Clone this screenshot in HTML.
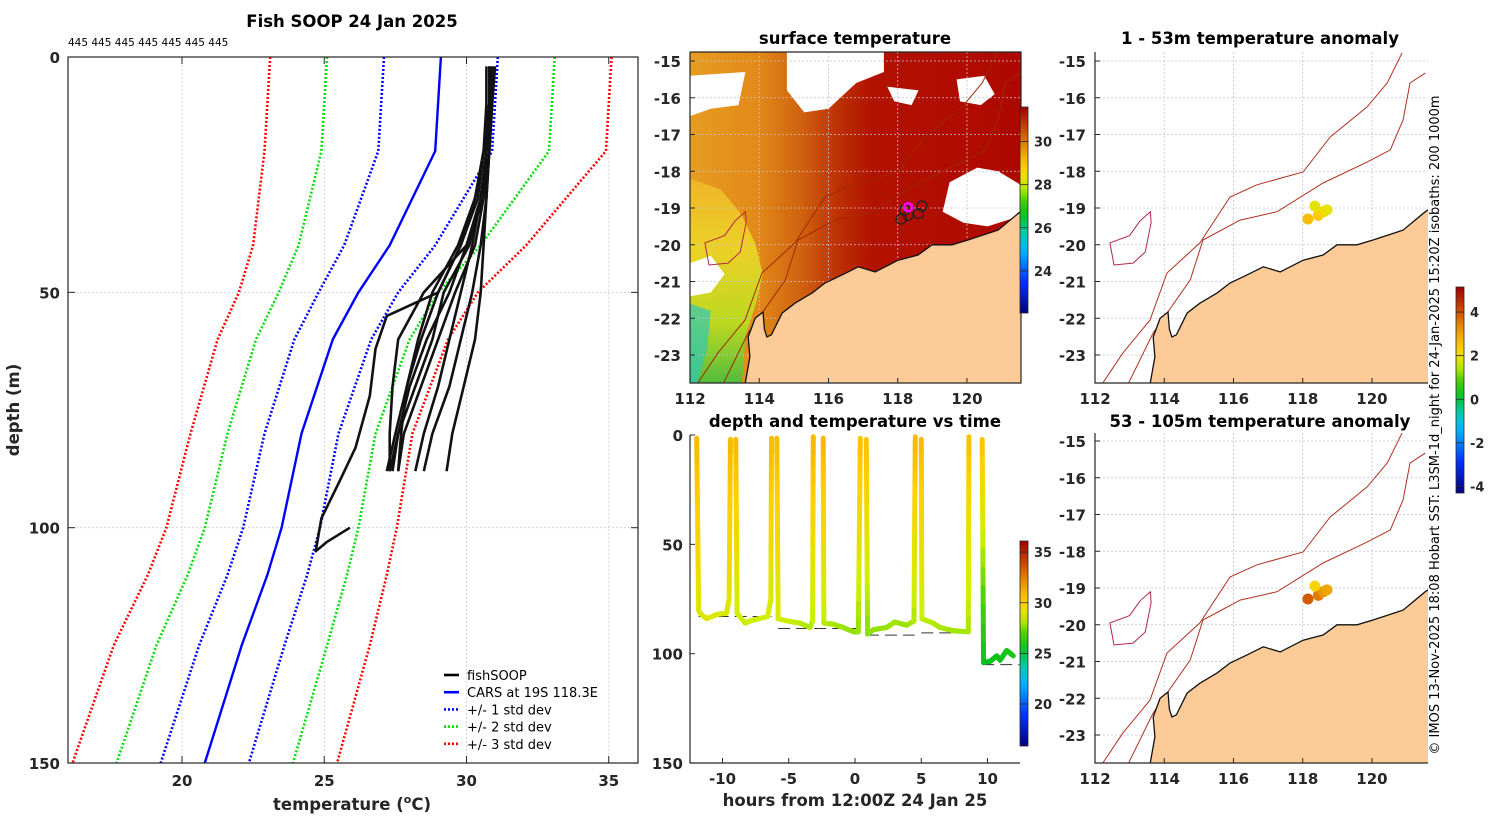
<!DOCTYPE html>
<html><head><meta charset="utf-8"><title>Fish SOOP 24 Jan 2025</title>
<style>
html,body{margin:0;padding:0;background:#fff;width:1500px;height:820px;overflow:hidden}
svg{display:block}
text{font-family:"DejaVu Sans","Liberation Sans",sans-serif}
.tk{font-size:15px;font-weight:bold;fill:#262626}
.ti{font-size:16.5px;font-weight:bold;fill:#000}
</style></head>
<body>
<svg id="fig" width="1500" height="820" viewBox="0 0 1500 820" xmlns="http://www.w3.org/2000/svg">
<defs>
<clipPath id="cl"><rect x="68" y="57" width="570" height="706"/></clipPath>
<clipPath id="cs"><rect x="690" y="52" width="331" height="331"/></clipPath>
<clipPath id="ca"><rect x="1095" y="52" width="333" height="331"/></clipPath>
<clipPath id="cb"><rect x="1095" y="433" width="333" height="330"/></clipPath>
<clipPath id="ct"><rect x="690" y="430" width="340" height="340"/></clipPath>
<linearGradient id="sstGrad" x1="690" y1="0" x2="1021" y2="0" gradientUnits="userSpaceOnUse">
<stop offset="0" stop-color="#e69c22"/><stop offset="0.2" stop-color="#e28a18"/><stop offset="0.33" stop-color="#d06410"/><stop offset="0.45" stop-color="#bc3004"/><stop offset="0.55" stop-color="#b21200"/><stop offset="1" stop-color="#ae0800"/>
</linearGradient>
<linearGradient id="yelGrad" x1="0" y1="0" x2="0" y2="1">
<stop offset="0" stop-color="#f0b828"/><stop offset="0.35" stop-color="#ecd828"/><stop offset="0.7" stop-color="#b8e020"/><stop offset="1" stop-color="#40c040"/>
</linearGradient>
</defs>
<rect x="0" y="0" width="1500" height="820" fill="#fff"/>
<g id="L"></g>
<g id="S"></g>
<g id="A"></g>
<g id="B"></g>
<g id="T"></g>
<text x="352" y="27" text-anchor="middle" class="ti">Fish SOOP 24 Jan 2025</text>
<text x="68" y="46" font-size="10.5" fill="#000">445 445 445 445 445 445 445</text>
<text x="855" y="44" text-anchor="middle" class="ti">surface temperature</text>
<text x="1260" y="44" text-anchor="middle" class="ti">1 - 53m temperature anomaly</text>
<text x="855" y="427" text-anchor="middle" class="ti">depth and temperature vs time</text>
<text x="1260" y="427" text-anchor="middle" class="ti">53 - 105m temperature anomaly</text>
<text x="352" y="810" text-anchor="middle" class="ti" style="fill:#262626">temperature (<tspan font-size="11" dy="-7">o</tspan><tspan dy="7">C)</tspan></text>
<text transform="translate(19,410) rotate(-90)" text-anchor="middle" class="ti" style="fill:#262626">depth (m)</text>
<text x="855" y="806" text-anchor="middle" class="ti" style="fill:#262626">hours from 12:00Z 24 Jan 25</text>
<text transform="translate(1439,425) rotate(-90)" text-anchor="middle" font-size="13" fill="#000">© IMOS 13-Nov-2025 18:08 Hobart SST: L3SM-1d_night for 24-Jan-2025 15:20Z isobaths: 200  1000m</text>
</svg>
<script>
// ---------- data ----------
const carsDepth = [0, 20, 40, 50, 60, 80, 100, 110, 125, 150];
const carsMean  = [29.1, 28.9, 27.3, 26.2, 25.3, 24.2, 23.5, 23.0, 22.1, 20.8];
const carsStd   = [2.0, 2.0, 1.6, 1.4, 1.35, 1.3, 1.35, 1.4, 1.5, 1.55];
const fishDepth = [2, 10, 20, 30, 40, 50, 60, 70, 80, 88];
const fishP1 = [30.9, 30.85, 30.7, 30.6, 30.3, 29.6, 29.0, 28.4, 27.8, 27.6];
const fishP2 = [30.8, 30.8, 30.7, 30.5, 30.1, 29.2, 28.8, 28.2, 27.6, 27.4];
const fishP3 = [31.0, 30.9, 30.8, 30.7, 30.5, 30.2, 29.8, 29.4, 28.8, 28.5];
const fishP4 = [30.9, 30.9, 30.8, 30.6, 30.0, 29.4, 28.6, 28.0, 27.6, 27.3];
const fishP5 = [30.7, 30.7, 30.6, 30.4, 29.8, 29.0, 28.4, 27.9, 27.5, 27.2];
const fishP6 = [31.0, 30.9, 30.8, 30.7, 30.6, 30.5, 30.3, 29.9, 29.5, 29.3];
const fishP7 = [30.8, 30.8, 30.6, 30.3, 29.7, 28.8, 28.3, 27.9, 27.7, 27.6];
const fishP8 = [30.9, 30.8, 30.7, 30.5, 30.2, 29.8, 29.4, 29.0, 28.5, 28.2];
const fishP10 = [30.8, 30.8, 30.7, 30.5, 30.0, 28.5, 27.6, 27.4, 27.3, 27.3];
const longDepth = [2, 10, 20, 30, 40, 45, 50, 55, 62, 72, 83, 90, 98, 105, 103, 100];
const longTemp  = [30.8, 30.8, 30.6, 30.3, 29.8, 29.4, 29.0, 27.2, 26.8, 26.6, 26.1, 25.55, 24.9, 24.7, 25.1, 25.9];
const tempTicks = [20, 25, 30, 35];
const depthTicks = [0, 50, 100, 150];
// depth-time track
const trackHour = [-11.95,-11.8,-11.7,-11.2,-10.4,-9.7,-9.5,-9.4, -9.0,-8.9,-8.3,-7.9,-6.6,-6.35,-6.3, -5.9,-5.8,-5.15,-4.15,-3.4,-3.2,-3.15, -2.4,-2.35,-1.65,-0.9,-0.1,0.25,0.4, 0.85,0.95,1.4,2.4,3.0,3.9,4.45,4.55, 5.0,5.05,5.9,6.4,7.4,8.55,8.6, 9.6,9.7,10.2,10.7,10.95,11.45,11.95];
const trackDepth = [1.5,80,81.5,84,82,81.5,75,2, 2,81.5,86,85,83,75,1.5, 1.5,84,85,86,88,85,0.8, 1.5,86,86.5,88,90,90,1.5, 2,91,89,88,85.5,87,85,0.8, 2,84,86,88,89.5,90,0.8, 2,104,103.5,101,103,98.5,101];
const trackTemp = [30.8,29.0,28.8,28.9,28.8,28.8,29.0,30.8, 30.8,28.5,28.3,28.4,28.5,28.7,30.8, 30.8,28.6,28.4,28.2,28.0,28.2,30.9, 30.9,28.2,28.0,27.9,27.7,27.7,30.6, 30.6,27.6,27.7,27.8,27.9,27.8,28.0,30.8, 30.8,28.3,28.1,28.0,27.9,27.9,30.6, 30.6,25.6,25.5,25.6,25.7,25.8,25.9];
const breakAfter = [7, 14, 21, 28, 36, 43];
const seabedStart = [-11.8, -5.8, 0.9, 5.0, 9.6];
const seabedEnd   = [-6.3, 0.4, 4.5, 8.6, 12.4];
const seabedDepth = [83, 88.5, 91.5, 90.5, 105];
const hourTicks = [-10, -5, 0, 5, 10];
// maps
const coastLon = [113.59,113.73,113.68,113.88,114.11,114.15,114.22,114.35,114.66,115.03,115.53,115.9,116.39,116.86,117.35,118.01,118.59,118.99,119.57,120.03,120.9,121.54,121.7,121.7];
const coastLat = [-23.8,-23.05,-22.51,-22.0,-21.83,-22.3,-22.51,-22.45,-21.86,-21.59,-21.31,-21.04,-20.82,-20.6,-20.74,-20.42,-20.28,-20.0,-20.0,-19.87,-19.6,-19.1,-19.0,-23.8];
const iso200Lon = [112.95,113.68,114.75,115.12,116.19,117.26,118.59,119.86,120.53,120.9,121.1,121.54];
const iso200Lat = [-23.8,-22.4,-20.96,-19.87,-19.33,-19.1,-18.32,-17.75,-17.42,-16.6,-15.6,-15.33];
const iso1000Lon = [112.2,112.8,113.59,114.08,115.03,115.9,116.68,118.01,118.79,119.86,120.44,120.87];
const iso1000Lat = [-23.8,-22.95,-22.05,-20.77,-19.95,-18.7,-18.37,-18.02,-17.07,-16.25,-15.6,-14.78];
const islandLon = [113.6,113.62,113.45,113.1,112.55,112.43,113.0,113.3];
const islandLat = [-19.1,-19.4,-20.2,-20.5,-20.55,-19.95,-19.75,-19.35];
const lonTicks = [112, 114, 116, 118, 120];
const latTicks = [-15, -16, -17, -18, -19, -20, -21, -22, -23];
const fishLon = [118.1, 118.3, 118.6, 118.7, 118.2];
const fishLat = [-19.3, -19.2, -19.15, -18.95, -19.05];
const anomLon = [118.15, 118.45, 118.6, 118.35, 118.7];
const anomLat = [-19.3, -19.2, -19.1, -18.95, -19.05];
const anomTop = [2.6, 2.4, 2.2, 1.9, 1.9];
const anomBot = [3.9, 3.5, 3.2, 2.2, 3.0];
const sstTicks = [24, 26, 28, 30];
const tcTicks = [20, 25, 30, 35];
const anTicks = [-4, -2, 0, 2, 4];

// ---------- helpers ----------
const NS = 'http://www.w3.org/2000/svg';
function mk(tag, attrs, parent) { const e = document.createElementNS(NS, tag); for (const k in attrs) e.setAttribute(k, attrs[k]); parent.appendChild(e); return e; }
const cmapStops = [[0,'#00007f'],[0.15,'#0030ff'],[0.3,'#00b0ff'],[0.38,'#00d0c0'],[0.47,'#00c020'],[0.55,'#50d000'],[0.62,'#d0f000'],[0.7,'#ffd000'],[0.78,'#f0a000'],[0.88,'#d05000'],[1,'#a00000']];
function hex2(c){return [parseInt(c.substr(1,2),16),parseInt(c.substr(3,2),16),parseInt(c.substr(5,2),16)];}
function cmap(t){ t=Math.max(0,Math.min(1,t)); for(let i=1;i<cmapStops.length;i++){ if(t<=cmapStops[i][0]){ const a=cmapStops[i-1],b=cmapStops[i]; const f=(t-a[0])/(b[0]-a[0]); const A=hex2(a[1]),B=hex2(b[1]); return 'rgb('+A.map((v,j)=>Math.round(v+(B[j]-v)*f)).join(',')+')'; } } return cmapStops[cmapStops.length-1][1]; }
function pts(xs, ys){ return xs.map((x,i)=>x.toFixed(1)+','+ys[i].toFixed(1)).join(' '); }

// ---------- left profile panel ----------
const L = document.getElementById('L');
const tx = T => 182 + (T - 20) * 28.45;
const dy = d => 57 + d * 4.707;
for (const t of tempTicks) {
  const g = mk('line', {x1: tx(t), x2: tx(t), y1: 57, y2: 763, stroke: '#c8cce0', 'stroke-width': 0.8, 'stroke-dasharray': '2,2'}, L);
  
  
  const lb = mk('text', {x: tx(t), y: 786, 'text-anchor': 'middle', class: 'tk'}, L);
  lb.textContent = t;
  
  
  for (const yy of [[763,756],[57,64]]) { const tk = mk('line', {x1: tx(t), x2: tx(t), y1: yy[0], y2: yy[1], stroke: '#262626'}, L);   }
}
for (const d of depthTicks) {
  if (d > 0 && d < 150) { const g = mk('line', {x1: 68, x2: 638, y1: dy(d), y2: dy(d), stroke: '#c8cce0', 'stroke-width': 0.8, 'stroke-dasharray': '2,2'}, L);
    
     }
  const lb = mk('text', {x: 60, y: dy(d) + 6, 'text-anchor': 'end', class: 'tk'}, L);
  lb.textContent = d;
  
  
  for (const xx of [[68,75],[638,631]]) { const tk = mk('line', {x1: xx[0], x2: xx[1], y1: dy(d), y2: dy(d), stroke: '#262626'}, L);   }
}
const LG = mk('g', {'clip-path': 'url(#cl)'}, L);
const stdCols = ['#0000ff', '#00e000', '#ff0000'];
for (let k = 3; k >= 1; k--) {
  for (const s of [-1, 1]) {
    const xs = carsMean.map((m, i) => tx(m + s * k * carsStd[i]));
    const l = mk('polyline', {points: pts(xs, carsDepth.map(dy)), fill: 'none', stroke: stdCols[k-1], 'stroke-width': 2.6, 'stroke-dasharray': '2,2'}, LG);
    
    
  }
}
const cm = mk('polyline', {points: pts(carsMean.map(tx), carsDepth.map(dy)), fill: 'none', stroke: '#0000ff', 'stroke-width': 2.4}, LG);


const fishSets = [fishP1, fishP2, fishP3, fishP4, fishP5, fishP6, fishP7, fishP8, fishP10];
fishSets.forEach((p) => {
  const l = mk('polyline', {points: pts(p.map(tx), fishDepth.map(dy)), fill: 'none', stroke: '#111', 'stroke-width': 2.6, 'stroke-linejoin': 'round'}, LG);
  
  
});
const ll = mk('polyline', {points: pts(longTemp.map(tx), longDepth.map(dy)), fill: 'none', stroke: '#111', 'stroke-width': 2.6, 'stroke-linejoin': 'round'}, LG);


const lbox = mk('rect', {x: 68, y: 57, width: 570, height: 706, fill: 'none', stroke: '#262626', 'stroke-width': 1.2}, L);


const legItems = [['fishSOOP','#000',''],['CARS at 19S 118.3E','#0000ff',''],['+/- 1 std dev','#0000ff','2,2'],['+/- 2 std dev','#00e000','2,2'],['+/- 3 std dev','#ff0000','2,2']];
const LEG = mk('g', {}, L);


legItems.forEach((it, i) => {
  const y = 675 + i * 17.2;
  const ln = mk('line', {x1: 444, x2: 459, y1: y, y2: y, stroke: it[1], 'stroke-width': 2.6, 'stroke-dasharray': it[2] || 'none'}, LEG);
  
  
  const t = mk('text', {x: 467, y: y + 5, 'font-size': 13, fill: '#000'}, LEG);
  t.textContent = it[0];
  
  
});

// ---------- maps ----------
function makeMap(gid, clip, x0, y0, ytop, h, kind) {
  const G = document.getElementById(gid);
  const px = lon => x0 + (lon - 112) * 34.62;
  const py = lat => y0 + (-15 - lat) * 36.75;
  const W = G.appendChild(document.createElementNS(NS, 'g')); W.setAttribute('clip-path', 'url(#' + clip + ')');
  const xr = x0 + 333 - (kind === 'sst' ? 2 : 0);
  if (kind === 'sst') {
    const base = mk('rect', {x: x0, y: ytop, width: 331, height: h, fill: 'url(#sstGrad)'}, W);
    
    
    const yl = mk('polygon', {points: pts([112,112.9,113.5,113.9,114.1,113.9,113.6,113.5,112].map(px), [-18.2,-18.5,-19.2,-20.0,-20.8,-21.6,-22.5,-23.8,-23.8].map(py)), fill: 'url(#yelGrad)', opacity: 0.9}, W);
    
    
    const cy = mk('polygon', {points: pts([112,112.6,112.5,112.2,112].map(px), [-21.6,-21.8,-22.8,-23.8,-23.8].map(py)), fill: '#30c8b8', opacity: 0.7}, W);
    
    
    const clouds = [
      [[114.8,117.6,117.6,116.8,116.0,115.3,114.8],[-14.7,-14.7,-15.3,-15.6,-16.3,-16.4,-15.8]],
      [[112,113.6,113.4,112.6,112],[-15.4,-15.3,-16.2,-16.3,-16.5]],
      [[119.5,120.3,120.9,121.6,121.6,120.6,119.9,119.3],[-18.3,-17.9,-18.0,-18.4,-19.2,-19.5,-19.4,-19.1]],
      [[119.7,120.5,120.8,120.4,119.8],[-15.5,-15.4,-15.9,-16.2,-16.1]],
      [[112,112.6,113.0,112.6,112],[-20.5,-20.3,-20.8,-21.3,-21.4]],
      [[117.7,118.6,118.4,117.9],[-15.7,-15.8,-16.2,-16.1]]
    ];
    clouds.forEach(c => { const p = mk('polygon', {points: pts(c[0].map(px), c[1].map(py)), fill: '#fff'}, W);
      
       });
  }
  for (const lo of lonTicks) { const g = mk('line', {x1: px(lo), x2: px(lo), y1: ytop, y2: ytop + h, stroke: '#c0c4dc', 'stroke-width': 0.8, 'stroke-dasharray': '2,2'}, W);
    
     }
  for (const la of latTicks) { const g = mk('line', {x1: x0, x2: xr, y1: py(la), y2: py(la), stroke: '#c0c4dc', 'stroke-width': 0.8, 'stroke-dasharray': '2,2'}, W);
    
     }
  const isoCol = kind === 'sst' ? '#a02800' : '#b03020';
  for (const iso of [[iso200Lon, iso200Lat], [iso1000Lon, iso1000Lat]]) {
    const l = mk('polyline', {points: pts(iso[0].map(px), iso[1].map(py)), fill: 'none', stroke: isoCol, 'stroke-width': 1}, W);
    
    
  }
  const isl = mk('polygon', {points: pts(islandLon.map(px), islandLat.map(py)), fill: 'none', stroke: '#b02848', 'stroke-width': 1}, W);
  
  
  const land = mk('polygon', {points: pts(coastLon.map(px), coastLat.map(py)), fill: '#fccb98', stroke: '#111', 'stroke-width': 1.3}, W);
  
  
  if (kind === 'sst') {
    fishLon.forEach((lo, i) => { const c = mk('circle', {cx: px(lo), cy: py(fishLat[i]), r: 5, fill: 'none', stroke: '#222', 'stroke-width': 1.3}, W);
      
       });
    const mc = mk('circle', {cx: px(118.3), cy: py(-18.98), r: 4, fill: 'none', stroke: '#ff00ff', 'stroke-width': 2.6}, W);
    
    
  } else {
    const vals = kind === 'a' ? anomTop : anomBot;
    anomLon.forEach((lo, i) => { const c = mk('circle', {cx: px(lo), cy: py(anomLat[i]), r: 5.5, fill: cmap((vals[i] + 4.3) / 9.45)}, W);
      
       });
  }
  // axes
  const ax = mk('path', {d: 'M' + x0 + ',' + ytop + 'V' + (ytop + h) + 'H' + xr + (kind === 'sst' ? 'V' + ytop + 'H' + x0 : ''), fill: 'none', stroke: '#262626', 'stroke-width': 1.2}, G);
  
  
  for (const lo of lonTicks) { const t = mk('text', {x: px(lo), y: ytop + h + 21, 'text-anchor': 'middle', class: 'tk'}, G);
    t.textContent = lo;
    
    
    const tk = mk('line', {x1: px(lo), x2: px(lo), y1: ytop + h, y2: ytop + h - 5, stroke: '#262626'}, G);
    
     }
  for (const la of latTicks) { const t = mk('text', {x: x0 - 9, y: py(la) + 6, 'text-anchor': 'end', class: 'tk'}, G);
    t.textContent = la;
    
    
    const tk = mk('line', {x1: x0, x2: x0 + 5, y1: py(la), y2: py(la), stroke: '#262626'}, G);
    
     }
}
makeMap('S', 'cs', 690, 61, 52, 331, 'sst');
makeMap('A', 'ca', 1095, 61, 52, 331, 'a');
makeMap('B', 'cb', 1095, 441, 433, 330, 'b');

// ---------- colorbars ----------
function colorbar(parent, x, y0, y1, vmin, vmax, ticks, name) {
  const svg = document.getElementById('fig');
  const id = 'cg' + name;
  const gd = mk('linearGradient', {id: id, x1: 0, y1: 1, x2: 0, y2: 0}, svg.querySelector('defs'));
  for (let i = 0; i <= 20; i++) mk('stop', {offset: i / 20, 'stop-color': cmap(i / 20)}, gd);
  const r = mk('rect', {x: x, y: y0, width: 8, height: y1 - y0, fill: 'url(#' + id + ')', stroke: '#262626', 'stroke-width': 0.8}, parent);
  
  
  for (const t of ticks) {
    const y = y1 - (t - vmin) / (vmax - vmin) * (y1 - y0);
    const tk = mk('line', {x1: x, x2: x + 8, y1: y, y2: y, stroke: '#262626', 'stroke-width': 0.8}, parent);
    
    
    const lb = mk('text', {x: x + 14, y: y + 5, 'font-size': 13, 'font-weight': 'bold', fill: '#262626'}, parent);
    lb.textContent = t;
    
    
  }
}
colorbar(document.getElementById('S'), 1020, 107, 313, 22.05, 31.6, sstTicks, 'sst');
colorbar(document.getElementById('A'), 1456, 287, 493, -4.3, 5.15, anTicks, 'anomaly');

// ---------- depth vs time ----------
const T = document.getElementById('T');
const hx = h => 855 + h * 13.25;
const hy = d => 435 + d * 2.187;
const TG = mk('g', {'clip-path': 'url(#ct)'}, T);
for (let i = 0; i < seabedStart.length; i++) {
  const l = mk('line', {x1: hx(seabedStart[i]), x2: hx(seabedEnd[i]), y1: hy(seabedDepth[i]), y2: hy(seabedDepth[i]), stroke: '#333', 'stroke-width': 1, 'stroke-dasharray': '12,6'}, TG);
  
  
}
const tnorm = v => (v - 15.85) / 20.25;
for (let i = 0; i < trackHour.length - 1; i++) {
  if (breakAfter.indexOf(i) >= 0) continue;
  const n = 12;
  for (let k = 0; k < n; k++) {
    const f0 = k / n, f1 = (k + 1) / n;
    const s = mk('line', {x1: hx(trackHour[i] + (trackHour[i+1] - trackHour[i]) * f0), y1: hy(trackDepth[i] + (trackDepth[i+1] - trackDepth[i]) * f0),
      x2: hx(trackHour[i] + (trackHour[i+1] - trackHour[i]) * f1), y2: hy(trackDepth[i] + (trackDepth[i+1] - trackDepth[i]) * f1),
      stroke: cmap(tnorm(trackTemp[i] + (trackTemp[i+1] - trackTemp[i]) * (f0 + f1) / 2)), 'stroke-width': 5, 'stroke-linecap': 'round'}, TG);
    
    
  }
}
const tax = mk('path', {d: 'M690,435V763H1020', fill: 'none', stroke: '#262626', 'stroke-width': 1.2}, T);


for (const d of depthTicks) { const lb = mk('text', {x: 683, y: hy(d) + 6, 'text-anchor': 'end', class: 'tk'}, T);
  lb.textContent = d;
  
  
  const tk = mk('line', {x1: 690, x2: 695, y1: hy(d), y2: hy(d), stroke: '#262626'}, T);
  
   }
for (const h of hourTicks) { const lb = mk('text', {x: hx(h), y: 784, 'text-anchor': 'middle', class: 'tk'}, T);
  lb.textContent = h;
  
  
  const tk = mk('line', {x1: hx(h), x2: hx(h), y1: 763, y2: 758, stroke: '#262626'}, T);
  
   }
colorbar(T, 1020, 541, 746, 15.85, 36.1, tcTicks, 'track-temperature');
</script>
</body></html>
